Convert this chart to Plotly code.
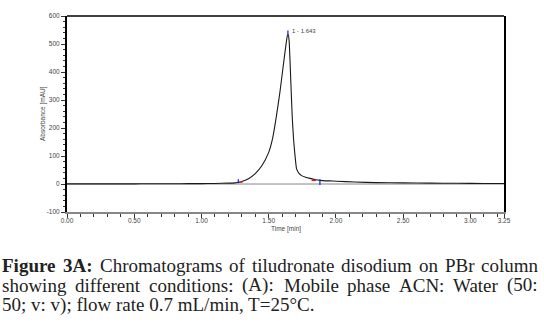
import plotly.graph_objects as go

# ---- data ----
time_min = [0.00, 0.10, 0.20, 0.30, 0.40, 0.50, 0.60, 0.70, 0.80, 0.90, 1.00, 1.10,
            1.20, 1.25, 1.28, 1.30, 1.35, 1.40, 1.45, 1.50, 1.53, 1.555, 1.584, 1.605,
            1.621, 1.632, 1.640, 1.646, 1.653, 1.665, 1.675, 1.685, 1.695, 1.707, 1.725, 1.745,
            1.775, 1.807, 1.85, 1.88, 1.95, 2.005, 2.14, 2.30, 2.50, 2.70, 2.90, 3.10, 3.25]
absorbance = [0.5, 0.5, 0.3, 0.4, 0.5, 0.6, 0.8, 0.9, 1.0, 1.2, 1.5, 2.0,
              3.0, 4.0, 6.0, 9.0, 19, 37, 66, 113, 165, 235, 330, 410,
              470, 510, 532, 533, 505, 360, 240, 160, 105, 55, 38, 30,
              24, 20, 15, 13, 11, 10, 7, 5, 4, 3, 2.5, 2, 2]

peak_rt = 1.643
peak_label = "1 - 1.643"
apex_mark_y = [530, 548]
start_mark_t = 1.274
start_mark_y = [17, 2.5]
end_mark_t = 1.881
end_mark_y = [16.6, -3.5]
start_red_t = [1.281, 1.306]
start_red_y = [7, 7]
end_red_t = [1.819, 1.851]
end_red_y = [13, 13]

event_t = [0.028, 0.15, 0.66, 1.316, 1.465, 1.665, 2.77, 2.873]
event_col = ["#7fb0e0", "#333333", "#999999", "#333333", "#999999", "#333333", "#111111", "#111111"]
event_size = [6, 2, 2, 2, 2, 2, 6, 6]

x_tickvals = [0.0, 0.5, 1.0, 1.5, 2.0, 2.5, 3.0, 3.25]
x_ticktext = ["0.00", "0.50", "1.00", "1.50", "2.00", "2.50", "3.00", "3.25"]
y_tickvals = [-100, 0, 100, 200, 300, 400, 500, 600]
y_ticktext = ["-100", "0", "100", "200", "300", "400", "500", "600"]

x_title = "Time [min]"
y_title = "Absorbance [mAU]"

caption_line1 = [("<b>Figure</b>", 1), ("<b>3A:</b>", 62), ("Chromatograms", 99), ("of", 228),
                 ("tiludronate", 251), ("disodium", 340), ("on", 418), ("PBr", 444), ("column", 481)]
caption_line2 = [("showing", 1), ("different", 74), ("conditions:", 148), ("(A):", 241),
                 ("Mobile", 283), ("phase", 346), ("ACN:", 398), ("Water", 452), ("(50:", 507)]
caption_line3 = "50; v: v); flow rate 0.7 mL/min, T=25°C."

# ---- geometry ----
W, H = 544, 328
L, R, T, B = 67, 40, 14, 116
PW = W - L - R
PH = H - T - B


def px_x(p):
    return (p - L) / PW


def px_y(p):
    return (H - B - p) / PH


fig = go.Figure()

# baseline
fig.add_trace(go.Scatter(x=[x_tickvals[0], x_tickvals[-1]], y=[0, 0], mode="lines",
                         line=dict(color="#888888", width=1), hoverinfo="skip"))
# chromatogram
fig.add_trace(go.Scatter(x=time_min, y=absorbance, mode="lines", line_shape="spline",
                         line=dict(color="#1a1a1a", width=1.1, smoothing=0.4)))
# integration marks
fig.add_trace(go.Scatter(x=start_red_t, y=start_red_y, mode="lines", line=dict(color="#e02020", width=1.5)))
fig.add_trace(go.Scatter(x=end_red_t, y=end_red_y, mode="lines", line=dict(color="#e02020", width=1.5)))
fig.add_trace(go.Scatter(x=[start_mark_t, start_mark_t], y=start_mark_y, mode="lines",
                         line=dict(color="#1030e0", width=1.3)))
fig.add_trace(go.Scatter(x=[end_mark_t, end_mark_t], y=end_mark_y, mode="lines",
                         line=dict(color="#1030e0", width=1.3)))
fig.add_trace(go.Scatter(x=[peak_rt, peak_rt], y=apex_mark_y, mode="lines",
                         line=dict(color="#1030e0", width=1.3), cliponaxis=False))
# event marks above plot
fig.add_trace(go.Scatter(x=event_t, y=[607] * len(event_t), mode="markers", cliponaxis=False,
                         marker=dict(symbol="line-ew", size=event_size,
                                     line=dict(color=event_col, width=1.5))))

fig.add_annotation(x=peak_rt, y=apex_mark_y[1], xref="x", yref="y", text=peak_label,
                   showarrow=False, xanchor="left", yanchor="middle", xshift=2,
                   font=dict(family="Liberation Sans", size=6, color="#444444"))

# axis titles
fig.add_annotation(x=px_x(37), y=0.5, xref="paper", yref="paper", text=y_title, textangle=-90,
                   showarrow=False, font=dict(family="Liberation Sans", size=6.5, color="#444444"))
fig.add_annotation(x=0.5, y=px_y(229), xref="paper", yref="paper", text=x_title,
                   showarrow=False, yanchor="middle",
                   font=dict(family="Liberation Sans", size=6.5, color="#444444"))

# top border
fig.add_shape(type="line", xref="paper", yref="paper", x0=0, x1=1, y0=1, y1=1,
              line=dict(color="black", width=1.5))

# caption
cap_font = dict(family="Liberation Serif", size=19, color="#222222")
for words, yc in ((caption_line1, 266), (caption_line2, 286)):
    for i, (w, xp) in enumerate(words):
        if i == len(words) - 1:
            fig.add_annotation(x=px_x(539), y=px_y(yc), xref="paper", yref="paper", text=w,
                               showarrow=False, xanchor="right", yanchor="middle",
                               borderpad=0, font=cap_font)
        else:
            fig.add_annotation(x=px_x(xp), y=px_y(yc), xref="paper", yref="paper", text=w,
                               showarrow=False, xanchor="left", yanchor="middle",
                               borderpad=0, font=cap_font)
fig.add_annotation(x=px_x(1), y=px_y(306), xref="paper", yref="paper", text=caption_line3,
                   showarrow=False, xanchor="left", yanchor="middle", borderpad=0, font=cap_font)

tick_font = dict(family="Liberation Sans", size=6.5, color="#444444")
fig.update_xaxes(range=[0, 3.25], tickmode="array", tickvals=x_tickvals, ticktext=x_ticktext,
                 ticks="outside", ticklen=4, tickwidth=1, tickcolor="#333333",
                 ticklabelstandoff=-3,
                 minor=dict(tickmode="array", tickvals=[i / 10 for i in range(33)],
                            ticks="outside", ticklen=3, tickcolor="#333333"),
                 showline=True, linecolor="#888888", linewidth=1.5, mirror=False,
                 showgrid=False, zeroline=False, tickfont=tick_font, fixedrange=True)
fig.update_yaxes(range=[-100, 600], tickmode="array", tickvals=y_tickvals, ticktext=y_ticktext,
                 ticks="outside", ticklen=4, tickwidth=1, tickcolor="#333333",
                 minor=dict(dtick=20, tick0=0, ticks="outside", ticklen=2, tickcolor="#333333"),
                 showline=True, linecolor="black", linewidth=2, mirror=True,
                 showgrid=False, zeroline=False, tickfont=tick_font, fixedrange=True)

fig.update_layout(width=W, height=H, margin=dict(l=L, r=R, t=T, b=B, pad=0),
                  paper_bgcolor="white", plot_bgcolor="white", showlegend=False)

fig.write_html("out.html")
